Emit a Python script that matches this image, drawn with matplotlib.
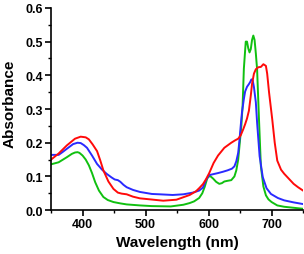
import numpy as np
import matplotlib
matplotlib.use("Agg")
import matplotlib.pyplot as plt
from matplotlib.ticker import MultipleLocator

# absorbance spectra (wavelength in nm)
green_wl = [350, 362, 375, 383, 388, 392, 395, 400, 405, 410, 415, 420, 426, 433, 440,
            449, 460, 470, 491, 510, 540, 560, 570, 577, 585, 590, 594, 598, 602, 607,
            612, 617, 621, 625, 630, 636, 641, 644, 647, 649, 652, 654, 656, 659, 661,
            663, 665, 667, 669, 671, 673, 675, 677, 680, 683, 687, 691, 695, 700, 709,
            720, 730, 750]
green_abs = [0.136, 0.142, 0.157, 0.167, 0.171, 0.172, 0.170, 0.162, 0.150, 0.133,
             0.110, 0.083, 0.058, 0.039, 0.030, 0.024, 0.020, 0.017, 0.014, 0.012, 0.011,
             0.016, 0.021, 0.026, 0.036, 0.050, 0.070, 0.095, 0.102, 0.094, 0.084, 0.078,
             0.080, 0.085, 0.087, 0.089, 0.100, 0.118, 0.150, 0.190, 0.250, 0.310, 0.420,
             0.500, 0.500, 0.480, 0.468, 0.478, 0.505, 0.518, 0.505, 0.465, 0.418, 0.270,
             0.130, 0.070, 0.044, 0.032, 0.024, 0.014, 0.010, 0.008, 0.004]

blue_wl = [350, 362, 368, 375, 385, 392, 397, 402, 407, 415, 423, 431, 438, 446, 451,
           456, 460, 465, 470, 480, 491, 510, 522, 543, 560, 575, 585, 591, 596, 601,
           608, 615, 623, 630, 637, 641, 644, 647, 649, 651, 653, 656, 658, 661, 664,
           666, 668, 670, 672, 675, 677, 681, 686, 692, 699, 710, 720, 735, 750]
blue_abs = [0.164, 0.164, 0.172, 0.182, 0.196, 0.200, 0.199, 0.193, 0.185, 0.162, 0.137,
            0.120, 0.108, 0.097, 0.091, 0.089, 0.084, 0.075, 0.068, 0.060, 0.054, 0.048,
            0.047, 0.045, 0.047, 0.052, 0.058, 0.067, 0.090, 0.104, 0.107, 0.110, 0.114,
            0.118, 0.123, 0.130, 0.145, 0.170, 0.207, 0.250, 0.290, 0.330, 0.352, 0.366,
            0.374, 0.380, 0.388, 0.385, 0.365, 0.320, 0.260, 0.160, 0.098, 0.065, 0.048,
            0.036, 0.029, 0.023, 0.018]

red_wl = [350, 362, 375, 388, 397, 405, 410, 416, 423, 428, 433, 441, 449, 456, 462,
          470, 480, 491, 507, 528, 549, 570, 580, 585, 591, 596, 601, 608, 615, 625,
          636, 642, 647, 651, 655, 658, 661, 664, 667, 669, 672, 675, 679, 683, 687,
          691, 693, 696, 701, 705, 709, 715, 720, 728, 735, 742, 750]
red_abs = [0.150, 0.168, 0.192, 0.212, 0.218, 0.216, 0.210, 0.195, 0.175, 0.148, 0.118,
           0.085, 0.063, 0.052, 0.049, 0.047, 0.040, 0.035, 0.032, 0.028, 0.031, 0.045,
           0.056, 0.065, 0.077, 0.092, 0.110, 0.140, 0.162, 0.185, 0.200, 0.207, 0.212,
           0.222, 0.240, 0.255, 0.272, 0.295, 0.340, 0.375, 0.405, 0.418, 0.424, 0.425,
           0.433, 0.428, 0.405, 0.349, 0.270, 0.200, 0.147, 0.120, 0.108, 0.092, 0.078,
           0.068, 0.058]

plt.rcParams['font.family'] = ['Liberation Sans', 'DejaVu Sans']
plt.rcParams['font.weight'] = 'bold'

fig = plt.figure(figsize=(3.04, 2.55), dpi=100)
ax = fig.add_axes([0.168, 0.172, 0.829, 0.793])

ax.plot(green_wl, green_abs, color='#10c010', lw=1.4)
ax.plot(blue_wl, blue_abs, color='#2a2aff', lw=1.4)
ax.plot(red_wl, red_abs, color='#ff0a0a', lw=1.4)

ax.set_xlim(350, 750)
ax.set_ylim(0, 0.6)
ax.xaxis.set_major_locator(MultipleLocator(100))
ax.xaxis.set_minor_locator(MultipleLocator(50))
ax.yaxis.set_major_locator(MultipleLocator(0.1))
ax.yaxis.set_minor_locator(MultipleLocator(0.05))
ax.tick_params(which='major', length=4, width=1.2, labelsize=9, pad=2)
ax.tick_params(which='minor', length=2, width=1.0)
for lab in ax.get_xticklabels() + ax.get_yticklabels():
    lab.set_fontweight('bold')

ax.spines['top'].set_visible(False)
ax.spines['right'].set_visible(False)
ax.spines['left'].set_linewidth(1.2)
ax.spines['bottom'].set_linewidth(1.2)

ax.set_xlabel('Wavelength (nm)', fontsize=11, fontweight='bold', labelpad=3)
ax.set_ylabel('Absorbance', fontsize=11, fontweight='bold')
ax.yaxis.set_label_coords(-0.135, 0.53)

fig.savefig('out.png', dpi=100)
